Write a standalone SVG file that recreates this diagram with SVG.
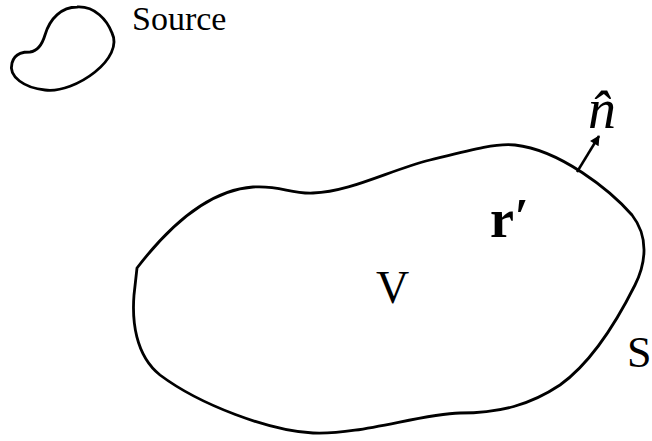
<svg xmlns="http://www.w3.org/2000/svg" width="652" height="441" viewBox="0 0 652 441">
<style>
.outline{fill:none;stroke:#000;stroke-width:2.8;stroke-linejoin:round}
.t{font-family:"Liberation Serif","Times New Roman",serif;fill:#000}
</style>
<defs>
<marker id="ah" viewBox="0 0 10 10" refX="9" refY="5" markerWidth="5" markerHeight="4" markerUnits="strokeWidth" orient="auto">
<path d="M0,0 L10,5 L0,10 Z" fill="#000"/>
</marker>
</defs>
<rect width="652" height="441" fill="#fff"/>
<g id="source">
<path class="outline" d="M77,7 C95,6 107,20 112,33 C118,45 110,60 95,72 C80,84 60,92 45,90 C25,88 8,77 12,63 C15,52 25,52 30,52 C38,51 42,45 45,35 C50,18 62,7 77,7 Z"/>
<text class="t" x="132" y="30" font-size="34">Source</text>
</g>
<g id="volume">
<path class="outline" d="M137,268 C170,225 210,190 253,187 C280,185 290,194 313,193 C350,192 390,170 430,160 C470,150 495,143 515,145 C560,150 610,190 632,215 C650,238 645,265 635,285 C620,315 595,360 560,385 C530,405 500,413 460,413 C420,414 360,435 313,433 C270,431 200,405 160,375 C135,355 132,320 134,295 Z"/>
<text class="t" x="376" y="303" font-size="46">V</text>
<text class="t" x="490" y="237" font-size="54" font-weight="bold">r<tspan font-style="italic" font-size="50" dy="-4">′</tspan></text>
<text class="t" x="627" y="367" font-size="44">S</text>
</g>
<g id="normal">
<text class="t" x="588" y="128" font-size="56" font-style="italic">n̂</text>
</g>
<g id="connectors">
<line x1="577" y1="172" x2="599" y2="136" stroke="#000" stroke-width="2.5" marker-end="url(#ah)"/>
</g>
</svg>
